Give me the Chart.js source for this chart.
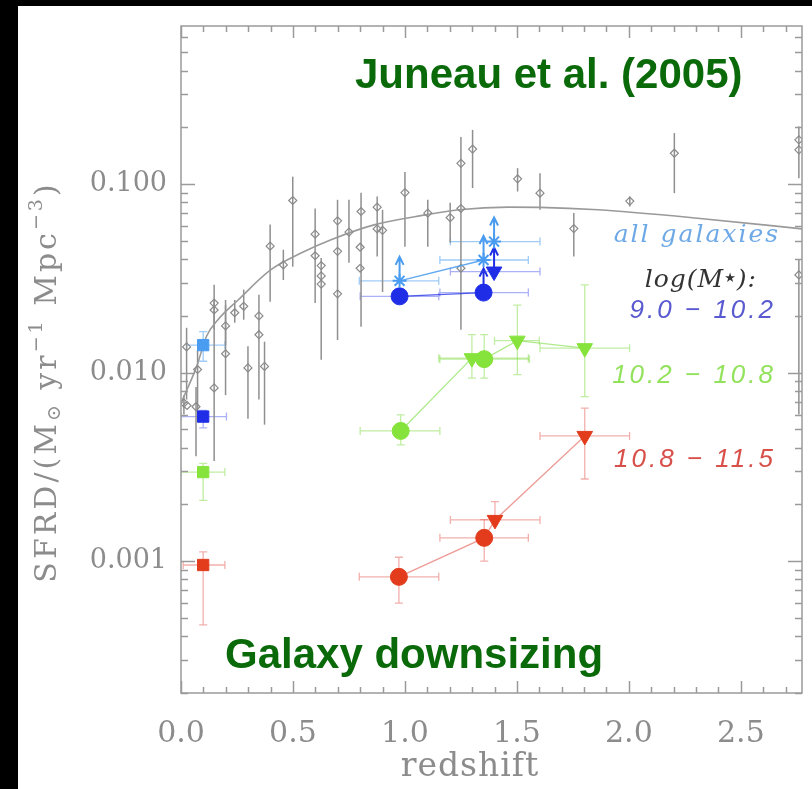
<!DOCTYPE html>
<html lang="en">
<head>
<meta charset="UTF-8">
<title>SFRD vs redshift - galaxy downsizing</title>
<script src="https://cdn.jsdelivr.net/npm/chart.js"></script>
<style>
  html, body { margin: 0; padding: 0; background: #000; width: 812px; height: 789px; overflow: hidden; }
  #wrap { position: absolute; left: 18px; top: 6px; width: 794px; height: 783px; background: #fff; }
</style>
</head>
<body>
<div id="wrap"><canvas id="myChart"></canvas></div>
<script>
// tick values
const xTicks = [0, 0.5, 1.0, 1.5, 2.0, 2.5];
const yTicks = [0.001, 0.01, 0.1];

// literature compilation (gray diamonds) - null = no own error bar
const grayZ    = [0.025, 0.074, 0.013, 0.027, 0.067, 0.148, 0.148, 0.148, 0.199, 0.199, 0.240, 0.280, 0.348, 0.348, 0.299, 0.373, 0.398, 0.457, 0.499, 0.599, 0.599, 0.626, 0.626, 0.626, 0.699, 0.699, 0.699, 0.750, 0.804, 0.800, 0.800, 0.876, 0.876, 0.900, 1.000, 1.102, 1.202, 1.250, 1.250, 1.250, 1.302, 1.503, 1.603, 1.754, 2.004, 2.203, 2.759, 2.759, 2.759];
const graySFRD = [0.0137, 0.0104, 0.0069, 0.0067, 0.0066, 0.0234, 0.0215, 0.0083, 0.0177, 0.0126, 0.0208, 0.0225, 0.0200, 0.0159, 0.0106, 0.0108, 0.0469, 0.0373, 0.0819, 0.0543, 0.0417, 0.0370, 0.0326, 0.0295, 0.0639, 0.0440, 0.0262, 0.0557, 0.0716, 0.0463, 0.0358, 0.0755, 0.0579, 0.0569, 0.0902, 0.0702, 0.0664, 0.1290, 0.0743, 0.0358, 0.1535, 0.1067, 0.0896, 0.0581, 0.0813, 0.1459, 0.1718, 0.1520, 0.0330];
const grayLo   = [0.0072, 0.0055, 0.0060, null, 0.0036, 0.0170, null, 0.0034, 0.0140, 0.0076, 0.0184, 0.0191, 0.0072, null, 0.0057, 0.0053, 0.0238, 0.0310, 0.0365, 0.0234, null, 0.0117, null, null, 0.0149, null, null, 0.0383, 0.0175, null, null, 0.0413, null, 0.0268, 0.0465, 0.0465, 0.0489, 0.0169, null, null, 0.0953, 0.0914, 0.0731, 0.0413, 0.0760, 0.0896, 0.1076, null, 0.0060];
const grayHi   = [0.0173, 0.0132, 0.0076, null, 0.0084, 0.0293, null, 0.0243, 0.0229, 0.0243, 0.0243, 0.0276, 0.0259, null, 0.0138, 0.0146, 0.0610, 0.0449, 0.1096, 0.0743, null, 0.0406, null, null, 0.0826, null, null, 0.0826, 0.0900, null, null, 0.0859, null, 0.0731, 0.1160, 0.0826, 0.0796, 0.1780, null, null, 0.1940, 0.1216, 0.1143, 0.0702, 0.0859, 0.1866, 0.2023, null, 0.0397];

// global SFRD fit
const fitZ    = [0.0, 0.07, 0.114, 0.165, 0.255, 0.40, 0.536, 0.67, 0.862, 1.092, 1.24, 1.462, 1.604, 1.862, 2.307, 2.80];
const fitSFRD = [0.0069, 0.0108, 0.0156, 0.0191, 0.0243, 0.0351, 0.0431, 0.0507, 0.0608, 0.0687, 0.0731, 0.0755, 0.0753, 0.0731, 0.0660, 0.0575];

// all galaxies (light blue)
const allZ     = [0.099, 0.976, 1.351, 1.398];
const allSFRD  = [0.0140, 0.0307, 0.0396, 0.0496];
const allZlo   = [0.025, 0.796, 1.156, 1.203];
const allZhi   = [0.196, 1.151, 1.551, 1.603];
const allLo    = [0.0115, null, null, null];
const allHi    = [0.0165, null, null, null];
const allLimit = [false, true, true, true];

// log M* 9.0 - 10.2 (blue)
const lowZ     = [0.099, 0.976, 1.351, 1.398];
const lowSFRD  = [0.00585, 0.0254, 0.0266, 0.0344];
const lowZlo   = [0.0, 0.800, 1.156, 1.203];
const lowZhi   = [0.203, 1.151, 1.551, 1.603];
const lowLo    = [0.0051, null, null, null];
const lowHi    = [0.0063, null, null, null];
const lowLimit = [false, false, true, true];

// log M* 10.2 - 10.8 (green)
const midZ     = [0.099, 0.981, 1.299, 1.354, 1.502, 1.803];
const midSFRD  = [0.00297, 0.00491, 0.01194, 0.0118, 0.01479, 0.01349];
const midZlo   = [0.0, 0.800, 1.151, 1.156, 1.400, 1.603];
const midZhi   = [0.196, 1.156, 1.551, 1.556, 1.600, 2.003];
const midLo    = [0.0021, 0.00414, 0.00935, 0.00935, 0.00977, 0.00747];
const midHi    = [0.0033, 0.00597, 0.0159, 0.0159, 0.0228, 0.0292];

// log M* 10.8 - 11.5 (red)
const highZ    = [0.099, 0.973, 1.354, 1.402, 1.803];
const highSFRD = [0.000955, 0.000826, 0.00133, 0.001656, 0.00462];
const highZlo  = [0.010, 0.796, 1.156, 1.203, 1.603];
const highZhi  = [0.196, 1.151, 1.551, 1.603, 2.003];
const highLo   = [0.00046, 0.00060, 0.00100, 0.001656, 0.00273];
const highHi   = [0.00112, 0.00105, 0.00166, 0.00207, 0.00648];

// marker kinds per point
const allShape  = ['rect', 'star', 'star', 'star'];
const lowShape  = ['rect', 'circle', 'circle', 'triangle'];
const midShape  = ['rect', 'circle', 'triangle', 'circle', 'triangle', 'triangle'];
const highShape = ['rect', 'circle', 'circle', 'triangle', 'triangle'];

const pts = (xs, ys) => xs.map((x, i) => ({ x: x, y: ys[i] }));
const rot = shapes => shapes.map(s => s === 'triangle' ? 180 : 0);
const rad = shapes => shapes.map(s => s === 'rect' ? 8 : s === 'triangle' ? 9 : s === 'star' ? 7 : 8.5);

function group(label, xs, ys, shapes, color, barColor, err, order) {
  return {
    label: label,
    data: pts(xs, ys),
    pointStyle: shapes,
    pointRotation: rot(shapes),
    pointRadius: rad(shapes),
    backgroundColor: color,
    borderColor: color,
    borderWidth: shapes.map(s => s === 'star' ? 2 : 1),
    showLine: false,
    errors: Object.assign({ color: barColor, caps: true }, err),
    order: order
  };
}

function linkLine(xs, ys, from, to, color, order) {
  return {
    data: pts(xs.slice(from, to), ys.slice(from, to)),
    showLine: true,
    borderColor: color,
    borderWidth: 1.3,
    pointRadius: 0,
    order: order
  };
}

// error bars + lower-limit arrows
const errorBarPlugin = {
  id: 'errorBars',
  beforeDatasetsDraw(chart) {
    const { ctx, chartArea, scales: { x, y } } = chart;
    ctx.save();
    ctx.beginPath();
    ctx.rect(chartArea.left, chartArea.top, chartArea.right - chartArea.left, chartArea.bottom - chartArea.top);
    ctx.clip();
    chart.data.datasets.forEach(ds => {
      const e = ds.errors;
      if (!e) return;
      ctx.strokeStyle = e.color;
      ctx.lineWidth = e.width || 1.3;
      ds.data.forEach((p, i) => {
        const px = x.getPixelForValue(p.x);
        const py = y.getPixelForValue(p.y);
        const cap = 4;
        ctx.beginPath();
        if (e.zlo && e.zlo[i] != null) {
          const a = x.getPixelForValue(e.zlo[i]), b = x.getPixelForValue(e.zhi[i]);
          ctx.moveTo(a, py); ctx.lineTo(b, py);
          if (e.caps) { ctx.moveTo(a, py - cap); ctx.lineTo(a, py + cap); ctx.moveTo(b, py - cap); ctx.lineTo(b, py + cap); }
        }
        if (e.lo && e.lo[i] != null) {
          const a = y.getPixelForValue(e.lo[i]), b = y.getPixelForValue(e.hi[i]);
          ctx.moveTo(px, a); ctx.lineTo(px, b);
          if (e.caps) { ctx.moveTo(px - cap, a); ctx.lineTo(px + cap, a); ctx.moveTo(px - cap, b); ctx.lineTo(px + cap, b); }
        }
        ctx.stroke();
        if (e.limit && e.limit[i]) {
          ctx.save();
          ctx.strokeStyle = e.arrow;
          ctx.lineWidth = 2;
          ctx.beginPath();
          ctx.moveTo(px, py); ctx.lineTo(px, py - 23);
          ctx.moveTo(px - 4, py - 16); ctx.lineTo(px, py - 24); ctx.lineTo(px + 4, py - 16);
          ctx.stroke();
          ctx.restore();
        }
      });
    });
    ctx.restore();
  }
};

// frame with inward ticks on all four sides
const framePlugin = {
  id: 'frame',
  afterDatasetsDraw(chart) {
    const { ctx, chartArea: a, scales: { x, y } } = chart;
    ctx.save();
    ctx.strokeStyle = '#9a9a9a';
    ctx.lineWidth = 1.5;
    ctx.strokeRect(a.left, a.top, a.right - a.left, a.bottom - a.top);
    ctx.beginPath();
    for (let k = 0; k <= 28; k++) {
      const v = k / 10;
      if (v > x.max) break;
      const px = Math.round(x.getPixelForValue(v)) + 0.5;
      const len = k % 5 === 0 ? 12 : 6;
      ctx.moveTo(px, a.bottom); ctx.lineTo(px, a.bottom - len);
      ctx.moveTo(px, a.top); ctx.lineTo(px, a.top + len);
    }
    for (let d = -4; d <= 0; d++) {
      for (let m = 1; m <= 9; m++) {
        const v = m * Math.pow(10, d);
        if (v < y.min || v > y.max) continue;
        const py = Math.round(y.getPixelForValue(v)) + 0.5;
        const len = m === 1 ? 14 : 7;
        ctx.moveTo(a.left, py); ctx.lineTo(a.left + len, py);
        ctx.moveTo(a.right, py); ctx.lineTo(a.right - len, py);
      }
    }
    ctx.stroke();
    ctx.restore();
  }
};

// draws a run of [text, font, dy] pieces starting at x
function drawPieces(ctx, pieces, x, y) {
  pieces.forEach(p => {
    ctx.font = p[1];
    ctx.fillText(p[0], x, y + p[2]);
    x += ctx.measureText(p[0]).width;
  });
}
function piecesWidth(ctx, pieces) {
  let w = 0;
  pieces.forEach(p => { ctx.font = p[1]; w += ctx.measureText(p[0]).width; });
  return w;
}

// axis titles and annotations
const textPlugin = {
  id: 'texts',
  afterDraw(chart) {
    const ctx = chart.ctx;
    ctx.save();
    // y title with sub/superscripts
    ctx.translate(30, 376);
    ctx.rotate(-Math.PI / 2);
    const big = '30px "DejaVu Serif"', small = '19px "DejaVu Serif"';
    const parts = [['SFRD/(M', big, 0], ['\u2299', small, 7], [' yr', big, 0], ['\u22121', small, -11], [' Mpc', big, 0], ['\u22123', small, -11], [')', big, 0]];
    ctx.letterSpacing = '3px';
    ctx.fillStyle = '#8c8c8c';
    ctx.textBaseline = 'middle';
    drawPieces(ctx, parts, -piecesWidth(ctx, parts) / 2, 0);
    ctx.restore();

    ctx.save();
    ctx.fillStyle = '#8c8c8c';
    ctx.font = '33px "DejaVu Serif"';
    ctx.letterSpacing = '1px';
    ctx.textAlign = 'center';
    ctx.textBaseline = 'middle';
    ctx.fillText('redshift', 452, 761);

    ctx.letterSpacing = '0px';
    ctx.fillStyle = '#0a6a0a';
    ctx.font = 'bold 42px "Liberation Sans"';
    ctx.textAlign = 'left';
    ctx.textBaseline = 'alphabetic';
    ctx.fillText('Juneau et al. (2005)', 337, 82);
    ctx.fillText('Galaxy downsizing', 207, 662);

    ctx.textAlign = 'right';
    ctx.letterSpacing = '2px';
    ctx.font = 'italic 25px "DejaVu Serif"';
    ctx.fillStyle = '#6ea9e6';
    ctx.fillText('all galaxies', 762, 236);

    // log(M*) with a small raised star
    ctx.textAlign = 'left';
    ctx.letterSpacing = '1px';
    ctx.fillStyle = '#333333';
    const ital = 'italic 25px "DejaVu Serif"';
    const logParts = [['log(M', ital, 0], ['\u2605', '13px "DejaVu Sans"', -5], ['):', ital, 0]];
    drawPieces(ctx, logParts, 739 - piecesWidth(ctx, logParts), 281);

    ctx.textAlign = 'right';
    ctx.letterSpacing = '3px';
    ctx.font = 'italic 26px "Liberation Sans"';
    ctx.fillStyle = '#5a5ad0';
    ctx.fillText('9.0 \u2212 10.2', 758, 312);
    ctx.fillStyle = '#92e25c';
    ctx.fillText('10.2 \u2212 10.8', 758, 377);
    ctx.fillStyle = '#d8504a';
    ctx.fillText('10.8 \u2212 11.5', 758, 461);
    ctx.restore();
  }
};

const LB = '#4a9cf0', DB = '#1f2ee6', GR = '#86e33c', RD = '#e23c1c';

const datasets = [
  group('all galaxies', allZ, allSFRD, allShape, LB, 'rgba(80,160,240,0.55)',
        { zlo: allZlo, zhi: allZhi, lo: allLo, hi: allHi, limit: allLimit, arrow: LB }, 1),
  group('9.0 - 10.2', lowZ, lowSFRD, lowShape, DB, 'rgba(70,80,230,0.45)',
        { zlo: lowZlo, zhi: lowZhi, lo: lowLo, hi: lowHi, limit: lowLimit, arrow: DB }, 2),
  group('10.2 - 10.8', midZ, midSFRD, midShape, GR, 'rgba(130,220,70,0.5)',
        { zlo: midZlo, zhi: midZhi, lo: midLo, hi: midHi }, 3),
  group('10.8 - 11.5', highZ, highSFRD, highShape, RD, 'rgba(225,80,70,0.45)',
        { zlo: highZlo, zhi: highZhi, lo: highLo, hi: highHi }, 4),
  linkLine(allZ, allSFRD, 1, 3, 'rgba(80,160,240,0.9)', 5),
  linkLine(lowZ, lowSFRD, 1, 3, 'rgba(40,55,230,0.8)', 5),
  linkLine(midZ, midSFRD, 1, 6, 'rgba(140,225,90,0.7)', 5),
  linkLine(highZ, highSFRD, 1, 5, 'rgba(225,90,80,0.6)', 5),
  {
    label: 'compilation',
    data: pts(grayZ, graySFRD),
    pointStyle: 'rectRot',
    pointRadius: 4,
    backgroundColor: 'rgba(255,255,255,0)',
    borderColor: '#8a8a8a',
    borderWidth: 1.2,
    showLine: false,
    errors: { zlo: null, lo: grayLo, hi: grayHi, color: '#8f8f8f', caps: false, width: 1.5 },
    order: 6
  },
  {
    label: 'fit',
    data: pts(fitZ, fitSFRD),
    showLine: true,
    borderColor: '#9a9a9a',
    borderWidth: 1.6,
    pointRadius: 0,
    cubicInterpolationMode: 'monotone',
    order: 7
  }
];

const tickFont = { family: 'DejaVu Serif', size: 30 };

new Chart(document.getElementById('myChart').getContext('2d'), {
  type: 'scatter',
  data: { datasets: datasets },
  options: {
    responsive: true,
    maintainAspectRatio: false,
    animation: false,
    layout: { padding: { top: 20, right: 7, left: 0, bottom: 0 } },
    plugins: { legend: { display: false }, tooltip: { enabled: false } },
    scales: {
      x: {
        type: 'linear', min: 0, max: 2.773,
        grid: { display: false, drawTicks: false },
        border: { display: false },
        afterBuildTicks: s => { s.ticks = xTicks.map(v => ({ value: v })); },
        afterFit: s => { s.height = 96; s.paddingLeft = 0; s.paddingRight = 0; },
        ticks: { callback: v => v.toFixed(1), font: tickFont, color: '#8c8c8c', padding: 23, maxRotation: 0, autoSkip: false }
      },
      y: {
        type: 'logarithmic', min: 0.0002, max: 0.69,
        grid: { display: false, drawTicks: false },
        border: { display: false },
        afterBuildTicks: s => { s.ticks = yTicks.map(v => ({ value: v })); },
        afterFit: s => { s.width = 163; s.paddingTop = 0; s.paddingBottom = 0; },
        ticks: { callback: v => v.toFixed(3), font: { family: 'DejaVu Serif', size: 27 }, color: '#8c8c8c', padding: 14, autoSkip: false }
      }
    }
  },
  plugins: [errorBarPlugin, framePlugin, textPlugin]
});
</script>
</body>
</html>
